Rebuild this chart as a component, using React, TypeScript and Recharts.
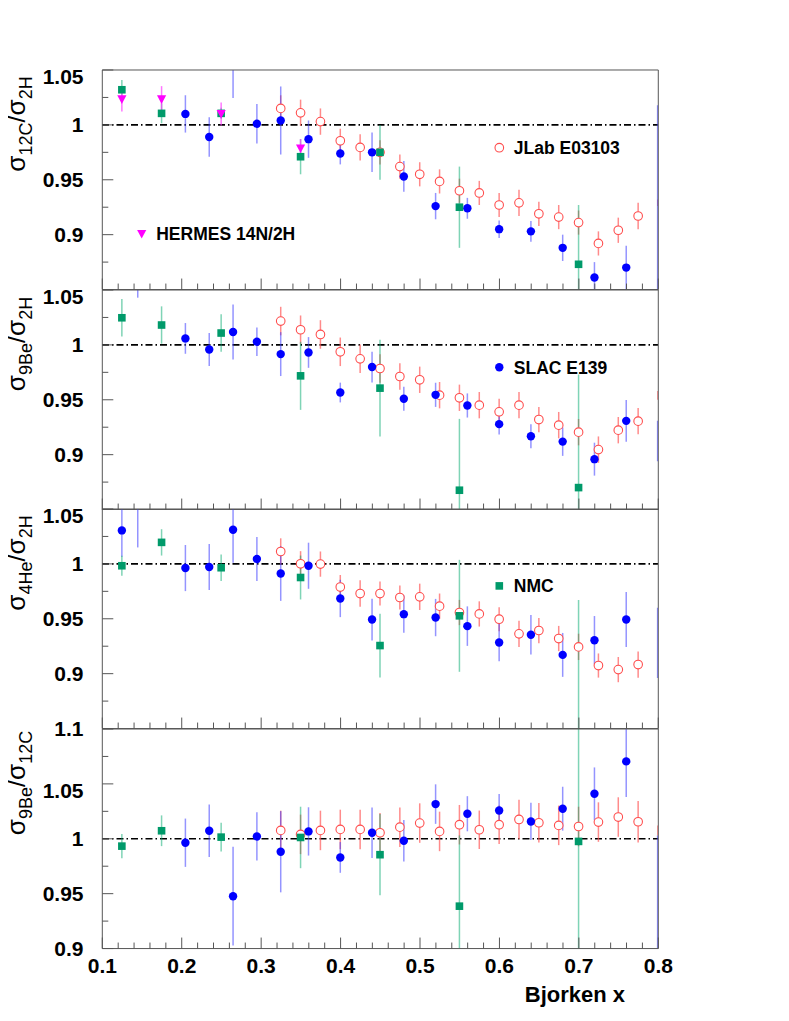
import React from 'react';
import { ScatterChart, Scatter, XAxis, YAxis, ErrorBar, ReferenceLine, ReferenceArea, Legend } from 'recharts';

const FONT = '"Liberation Sans", Arial, Helvetica, sans-serif';

// ---------- x positions ----------
const jlabX = [0.325, 0.35, 0.375, 0.4, 0.425, 0.45, 0.475, 0.5, 0.525, 0.55, 0.575, 0.6, 0.625, 0.65, 0.675, 0.7, 0.725, 0.75, 0.775];
const slacX = [0.125, 0.145, 0.205, 0.235, 0.265, 0.295, 0.325, 0.36, 0.4, 0.44, 0.48, 0.52, 0.56, 0.6, 0.64, 0.68, 0.72, 0.76];
const nmcX = [0.125, 0.175, 0.25, 0.35, 0.45, 0.55, 0.7];
const hermesX = [0.125, 0.175, 0.25, 0.35];
const edgeX = [0.8];

// ---------- panel 1 : 12C / 2H ----------
const jlabC = [1.015, 1.011, 1.003, 0.9855, 0.9795, 0.975, 0.962, 0.955, 0.9485, 0.94, 0.938, 0.927, 0.929, 0.919, 0.916, 0.911, 0.892, 0.904, 0.917];
const jlabCErr = [0.012, 0.012, 0.012, 0.011, 0.012, 0.011, 0.011, 0.011, 0.011, 0.011, 0.011, 0.011, 0.012, 0.011, 0.011, 0.011, 0.011, 0.0115, 0.012];
const slacC = [null, null, 1.01, 0.989, 1.07, 1.001, 1.004, 0.987, 0.974, 0.975, 0.953, 0.926, 0.924, 0.905, 0.903, 0.888, 0.861, 0.87];
const slacCErr = [null, null, 0.017, 0.018, 0.0455, 0.018, 0.031, 0.017, 0.01, 0.018, 0.014, 0.012, 0.0095, 0.008, 0.0095, 0.012, 0.014, 0.02];
const nmcC = [1.032, 1.0105, 1.0105, 0.971, 0.975, 0.925, 0.873];
const nmcCErr = [0.009, 0.009, 0.005, 0.016, 0.025, 0.037, 0.054];
const hermesN = [1.0233, 1.0233, 1.0099, 0.9786];
const hermesNErr = [0.011, 0.012, 0.0105, 0.0085];
const slacEdgeC = [0.93];
const slacEdgeCErr = [0.088];
const jlabEdgeC = [0.929];
const jlabEdgeCErr = [0.003];

// ---------- panel 2 : 9Be / 2H ----------
const jlabBe = [1.0217, 1.0138, 1.0095, 0.9937, 0.9873, 0.9785, 0.9712, 0.9682, 0.9542, 0.9518, 0.9451, 0.939, 0.9451, 0.932, 0.9269, 0.9205, 0.9046, 0.9223, 0.9305];
const jlabBeErr = [0.013, 0.013, 0.013, 0.013, 0.013, 0.013, 0.012, 0.012, 0.012, 0.012, 0.012, 0.012, 0.012, 0.0115, 0.012, 0.012, 0.012, 0.012, 0.012];
const slacBe = [null, 1.07, 1.0059, 0.9958, 1.0117, 1.0028, 0.9916, 0.9931, 0.9566, 0.9798, 0.9509, 0.9545, 0.9448, 0.9278, 0.9168, 0.9119, 0.8959, 0.9308];
const slacBeErr = [null, 0.027, 0.014, 0.015, 0.025, 0.013, 0.02, 0.014, 0.009, 0.014, 0.011, 0.011, 0.011, 0.0095, 0.011, 0.013, 0.015, 0.019];
const nmcBe = [1.0247, 1.0181, 1.0108, 0.9718, 0.9606, 0.8676, 0.87];
const nmcBeErr = [0.017, 0.017, 0.017, 0.031, 0.044, 0.065, 0.103];
const slacEdgeBe = [0.9125];
const slacEdgeBeErr = [0.0185];
const jlabEdgeBe = [0.954];
const jlabEdgeBeErr = [0.004];

// ---------- panel 3 : 4He / 2H ----------
const jlabHe = [1.0113, 1.0001, 0.9998, 0.9789, 0.973, 0.973, 0.9694, 0.97, 0.9615, 0.9557, 0.9544, 0.9496, 0.9363, 0.9393, 0.932, 0.9244, 0.9074, 0.9037, 0.9083];
const jlabHeErr = [0.012, 0.0115, 0.0115, 0.011, 0.012, 0.011, 0.011, 0.012, 0.0115, 0.0115, 0.0115, 0.011, 0.012, 0.0115, 0.0115, 0.012, 0.011, 0.0115, 0.012];
const slacHe = [1.0305, 1.07, 0.9962, 0.9971, 1.0311, 1.0044, 0.9913, 0.9983, 0.9685, 0.9493, 0.9542, 0.9511, 0.9433, 0.9284, 0.9354, 0.9171, 0.9305, 0.9493];
const slacHeErr = [0.024, 0.055, 0.021, 0.021, 0.03, 0.02, 0.025, 0.021, 0.017, 0.019, 0.017, 0.017, 0.018, 0.017, 0.018, 0.02, 0.022, 0.025];
const nmcHe = [0.9983, 1.0196, 0.9965, 0.9876, 0.9256, 0.9527, 0.84];
const nmcHeErr = [0.009, 0.012, 0.012, 0.02, 0.029, 0.051, 0.127];
const slacEdgeHe = [0.928];
const slacEdgeHeErr = [0.032];

// ---------- panel 4 : 9Be / 12C ----------
const jlabBeC = [1.0076, 1.004, 1.0076, 1.0085, 1.0085, 1.0055, 1.0106, 1.0143, 1.0067, 1.0128, 1.0082, 1.0128, 1.0176, 1.0146, 1.0122, 1.0112, 1.0152, 1.0198, 1.0155];
const jlabBeCErr = [0.018, 0.018, 0.018, 0.018, 0.018, 0.018, 0.018, 0.018, 0.018, 0.018, 0.0175, 0.0175, 0.018, 0.018, 0.018, 0.018, 0.018, 0.018, 0.019];
const slacBeC = [null, null, 0.9964, 1.0073, 0.9477, 1.0021, 0.9882, 1.0067, 0.983, 1.0055, 0.9982, 1.0316, 1.0228, 1.0258, 1.0158, 1.0274, 1.041, 1.0705];
const slacBeCErr = [null, null, 0.022, 0.024, 0.045, 0.022, 0.037, 0.022, 0.014, 0.023, 0.019, 0.018, 0.016, 0.015, 0.017, 0.02, 0.024, 0.0325];
const nmcBeC = [0.9933, 1.0073, 1.0015, 1.0012, 0.9855, 0.9386, 0.9976];
const nmcBeCErr = [0.011, 0.014, 0.013, 0.028, 0.037, 0.0645, 0.115];
const slacEdgeBeC = [0.94];
const slacEdgeBeCErr = [0.063];
const jlabEdgeBeC = [1.0075];
const jlabEdgeBeCErr = [0.0045];

// ---------- axes ----------
const xTicks = [0.1, 0.12, 0.14, 0.16, 0.18, 0.2, 0.22, 0.24, 0.26, 0.28, 0.3, 0.32, 0.34, 0.36, 0.38, 0.4, 0.42, 0.44, 0.46, 0.48, 0.5, 0.52, 0.54, 0.56, 0.58, 0.6, 0.62, 0.64, 0.66, 0.68, 0.7, 0.72, 0.74, 0.76, 0.78, 0.8];
const xLabels = [0.1, 0.2, 0.3, 0.4, 0.5, 0.6, 0.7, 0.8];
const yTicksRatio = [0.85, 0.875, 0.9, 0.925, 0.95, 0.975, 1, 1.025, 1.05];
const yLabelsRatio = [0.9, 0.95, 1, 1.05];
const yTicksBeC = [0.9, 0.925, 0.95, 0.975, 1, 1.025, 1.05, 1.075, 1.1];
const yLabelsBeC = [0.9, 0.95, 1, 1.05, 1.1];
const X_DOMAIN: [number, number] = [0.1, 0.8];

const AXIS_W = 102.3; // page x of plot left (axis chart starts at page x 0)
const PLOT_W = 556;
const CHART_W = 708;
const TOP_M = 20;
const PANEL_H = 219.55;
const FIRST_TOP = 62; // panel 1 plot top relative to the root div
const BOTTOM_AXIS_H = 62;
const AXIS_COLOR = '#555';

type P = { x: number; y: number | null; e: number | null };
function pts(xs: number[], ys: (number | null)[], es: (number | null)[]): P[] {
  return xs.map((x, i) => ({ x, y: ys[i], e: es[i] })).filter((p) => p.y != null);
}
const near = (a: number, b: number) => Math.abs(a - b) < 1e-6;

// ---------- markers ----------
const SLAC_COL = '#0000ff';
const JLAB_COL = '#ff4d4d';
const NMC_COL = '#009a6a';
const HERMES_COL = '#ff00ff';

const SlacShape = (p: any) => <circle cx={p.cx} cy={p.cy} r={4.2} fill={SLAC_COL} />;
const JlabShape = (p: any) => <circle cx={p.cx} cy={p.cy} r={4.3} fill="#fff" stroke={JLAB_COL} strokeWidth={1.1} />;
const NmcShape = (p: any) => <rect x={p.cx - 3.8} y={p.cy - 3.8} width={7.6} height={7.6} fill={NMC_COL} />;
const HermesShape = (p: any) => (
  <polygon points={`${p.cx - 4.6},${p.cy - 4} ${p.cx + 4.6},${p.cy - 4} ${p.cx},${p.cy + 4.6}`} fill={HERMES_COL} />
);
const NoShape = () => <g />;

type LegendItem = { kind: 'jlab' | 'slac' | 'nmc' | 'hermes'; label: string; mx: number; my: number };

function LegendMarker({ kind, cx, cy }: { kind: string; cx: number; cy: number }) {
  if (kind === 'jlab') return <JlabShape cx={cx} cy={cy} />;
  if (kind === 'slac') return <SlacShape cx={cx} cy={cy} />;
  if (kind === 'nmc') return <NmcShape cx={cx} cy={cy} />;
  return <HermesShape cx={cx} cy={cy} />;
}

type Panel = {
  key: string;
  domain: [number, number];
  yTicks: number[];
  yLabels: number[];
  title: [string, string];
  jlab: P[];
  slac: P[];
  nmc: P[];
  hermes: P[];
  slacEdge: P[];
  jlabEdge: P[];
  legend: LegendItem[];
};

const panels: Panel[] = [
  {
    key: 'c',
    domain: [0.85, 1.05],
    yTicks: yTicksRatio,
    yLabels: yLabelsRatio,
    title: ['12C', '2H'],
    jlab: pts(jlabX, jlabC, jlabCErr),
    slac: pts(slacX, slacC, slacCErr),
    nmc: pts(nmcX, nmcC, nmcCErr),
    hermes: pts(hermesX, hermesN, hermesNErr),
    slacEdge: pts(edgeX, slacEdgeC, slacEdgeCErr),
    jlabEdge: pts(edgeX, jlabEdgeC, jlabEdgeCErr),
    legend: [
      { kind: 'jlab', label: 'JLab E03103', mx: 499.3, my: 97.7 },
      { kind: 'hermes', label: 'HERMES 14N/2H', mx: 141.7, my: 184 },
    ],
  },
  {
    key: 'be',
    domain: [0.85, 1.05],
    yTicks: yTicksRatio,
    yLabels: yLabelsRatio,
    title: ['9Be', '2H'],
    jlab: pts(jlabX, jlabBe, jlabBeErr),
    slac: pts(slacX, slacBe, slacBeErr),
    nmc: pts(nmcX, nmcBe, nmcBeErr),
    hermes: [],
    slacEdge: pts(edgeX, slacEdgeBe, slacEdgeBeErr),
    jlabEdge: pts(edgeX, jlabEdgeBe, jlabEdgeBeErr),
    legend: [{ kind: 'slac', label: 'SLAC E139', mx: 499.3, my: 97.2 }],
  },
  {
    key: 'he',
    domain: [0.85, 1.05],
    yTicks: yTicksRatio,
    yLabels: yLabelsRatio,
    title: ['4He', '2H'],
    jlab: pts(jlabX, jlabHe, jlabHeErr),
    slac: pts(slacX, slacHe, slacHeErr),
    nmc: pts(nmcX, nmcHe, nmcHeErr),
    hermes: [],
    slacEdge: pts(edgeX, slacEdgeHe, slacEdgeHeErr),
    jlabEdge: [],
    legend: [{ kind: 'nmc', label: 'NMC', mx: 499.3, my: 96.9 }],
  },
  {
    key: 'bec',
    domain: [0.9, 1.1],
    yTicks: yTicksBeC,
    yLabels: yLabelsBeC,
    title: ['9Be', '12C'],
    jlab: pts(jlabX, jlabBeC, jlabBeCErr),
    slac: pts(slacX, slacBeC, slacBeCErr),
    nmc: pts(nmcX, nmcBeC, nmcBeCErr),
    hermes: [],
    slacEdge: pts(edgeX, slacEdgeBeC, slacEdgeBeCErr),
    jlabEdge: pts(edgeX, jlabEdgeBeC, jlabEdgeBeCErr),
    legend: [],
  },
];

function XTick(props: any) {
  const { x, y, payload, showLabel } = props;
  const v = payload.value as number;
  const major = xLabels.some((l) => near(l, v));
  return (
    <g>
      <line x1={x} x2={x} y1={y} y2={y - (major ? 11 : 6)} stroke={AXIS_COLOR} strokeWidth={1} />
      {showLabel && major && (
        <text x={x} y={y + 24} textAnchor="middle" fontFamily={FONT} fontWeight="bold" fontSize={21} fill="#000">
          {v.toFixed(1)}
        </text>
      )}
    </g>
  );
}

function YTick(props: any) {
  const { x, y, payload, labels } = props;
  const v = payload.value as number;
  const showLabel = labels.some((l: number) => near(l, v));
  const major = showLabel || near(v, 0.85);
  const shift = near(v, 1.05) ? 6.5 : 0;
  return (
    <g>
      <line x1={x} x2={x + (major ? 11 : 6)} y1={y} y2={y} stroke={AXIS_COLOR} strokeWidth={1} />
      {showLabel && (
        <text x={x - 18.8} y={y + 7.5 + shift} textAnchor="end" fontFamily={FONT} fontWeight="bold" fontSize={21} fill="#000">
          {String(v)}
        </text>
      )}
    </g>
  );
}

function YTitle({ viewBox, num, den }: any) {
  const vb = viewBox || { x: 0, y: 0 };
  const tx = vb.x + 25;
  const ty = vb.y + 54;
  return (
    <text x={tx} y={ty} transform={`rotate(-90 ${tx} ${ty})`} textAnchor="middle" fontFamily={FONT} fontSize={26} fill="#000">
      <tspan>σ</tspan>
      <tspan fontSize={18} dy={7}>
        {num}
      </tspan>
      <tspan dy={-7}>/σ</tspan>
      <tspan fontSize={18} dy={7}>
        {den}
      </tspan>
    </text>
  );
}

function XTitle({ viewBox }: any) {
  const vb = viewBox || { x: 0, y: 0, width: 0 };
  return (
    <text x={vb.x + vb.width - 33.3} y={vb.y + 53} textAnchor="end" fontFamily={FONT} fontWeight="bold" fontSize={22} fill="#000">
      Bjorken x
    </text>
  );
}

// Data layer: the svg is exactly the plot frame, so everything outside the frame is clipped (as in the original)
function PanelData({ panel }: { panel: Panel }) {
  const errW = 1.5;
  return (
    <ScatterChart width={PLOT_W} height={PANEL_H} margin={{ top: 0, right: 0, bottom: 0, left: 0 }}>
      <XAxis type="number" dataKey="x" domain={X_DOMAIN} allowDataOverflow hide />
      <YAxis type="number" dataKey="y" domain={panel.domain} allowDataOverflow hide />
      <ReferenceLine y={1} stroke="#000" strokeWidth={1.6} strokeDasharray="7 3 1.5 3" />
      <Scatter data={panel.jlabEdge} dataKey="y" shape={NoShape} isAnimationActive={false}>
        <ErrorBar dataKey="e" direction="y" width={0} stroke="rgba(255,80,80,0.75)" strokeWidth={errW} isAnimationActive={false} />
      </Scatter>
      <Scatter data={panel.slacEdge} dataKey="y" shape={NoShape} isAnimationActive={false}>
        <ErrorBar dataKey="e" direction="y" width={0} stroke="rgba(60,60,255,0.6)" strokeWidth={2.2} isAnimationActive={false} />
      </Scatter>
      <Scatter data={panel.jlab} dataKey="y" shape={JlabShape} isAnimationActive={false}>
        <ErrorBar dataKey="e" direction="y" width={0} stroke="rgba(255,90,90,0.7)" strokeWidth={errW} isAnimationActive={false} />
      </Scatter>
      <Scatter data={panel.slac} dataKey="y" shape={SlacShape} isAnimationActive={false}>
        <ErrorBar dataKey="e" direction="y" width={0} stroke="rgba(60,60,255,0.55)" strokeWidth={errW} isAnimationActive={false} />
      </Scatter>
      <Scatter data={panel.nmc} dataKey="y" shape={NmcShape} isAnimationActive={false}>
        <ErrorBar dataKey="e" direction="y" width={0} stroke="rgba(0,170,110,0.5)" strokeWidth={errW} isAnimationActive={false} />
      </Scatter>
      {panel.hermes.length > 0 && (
        <Scatter data={panel.hermes} dataKey="y" shape={HermesShape} isAnimationActive={false}>
          <ErrorBar dataKey="e" direction="y" width={0} stroke="rgba(255,60,255,0.7)" strokeWidth={errW} isAnimationActive={false} />
        </Scatter>
      )}
    </ScatterChart>
  );
}

// Axis layer: frame, ticks, labels, titles and legend
function PanelAxes({ panel, bottom }: { panel: Panel; bottom: boolean }) {
  const axisH = bottom ? BOTTOM_AXIS_H : 1;
  const h = TOP_M + PANEL_H + axisH;
  return (
    <ScatterChart width={CHART_W} height={h} margin={{ top: TOP_M, right: CHART_W - AXIS_W - PLOT_W, bottom: 0, left: 0 }}>
      <XAxis
        type="number"
        dataKey="x"
        domain={X_DOMAIN}
        ticks={xTicks}
        interval={0}
        allowDataOverflow
        axisLine={false}
        tickLine={false}
        tickSize={0}
        tickMargin={0}
        height={axisH}
        tick={(p: any) => <XTick {...p} showLabel={bottom} />}
        label={bottom ? (p: any) => <XTitle viewBox={p.viewBox} /> : undefined}
      />
      <YAxis
        type="number"
        dataKey="y"
        domain={panel.domain}
        ticks={panel.yTicks}
        interval={0}
        allowDataOverflow
        axisLine={false}
        tickLine={false}
        tickSize={0}
        tickMargin={0}
        width={AXIS_W}
        tick={(p: any) => <YTick {...p} labels={panel.yLabels} />}
        label={(p: any) => <YTitle viewBox={p.viewBox} num={panel.title[0]} den={panel.title[1]} />}
      />
      <ReferenceArea
        x1={X_DOMAIN[0]}
        x2={X_DOMAIN[1]}
        y1={panel.domain[0]}
        y2={panel.domain[1]}
        fill="none"
        fillOpacity={0}
        stroke={AXIS_COLOR}
        strokeWidth={1}
        ifOverflow="visible"
      />
      {panel.legend.length > 0 && (
        <Legend
          layout="horizontal"
          verticalAlign="middle"
          align="center"
          wrapperStyle={{ position: 'absolute', left: 0, top: 0, width: CHART_W, height: h, pointerEvents: 'none' }}
          content={() => (
            <svg width={CHART_W} height={h} style={{ display: 'block', overflow: 'visible' }}>
              {panel.legend.map((it) => (
                <g key={it.label}>
                  <LegendMarker kind={it.kind} cx={it.mx} cy={it.my} />
                  <text x={it.mx + 14.5} y={it.my + 6.3} fontFamily={FONT} fontWeight="bold" fontSize={17.5} fill="#000">
                    {it.label}
                  </text>
                </g>
              ))}
            </svg>
          )}
        />
      )}
    </ScatterChart>
  );
}

export default function App() {
  return (
    <div style={{ position: 'relative', width: 773, height: 1005, fontFamily: FONT }}>
      {panels.map((panel, i) => (
        <React.Fragment key={panel.key}>
          <div style={{ position: 'absolute', left: AXIS_W - 8, top: FIRST_TOP + i * PANEL_H }}>
            <PanelData panel={panel} />
          </div>
          <div style={{ position: 'absolute', left: -8, top: FIRST_TOP - TOP_M + i * PANEL_H }}>
            <PanelAxes panel={panel} bottom={i === panels.length - 1} />
          </div>
        </React.Fragment>
      ))}
    </div>
  );
}
